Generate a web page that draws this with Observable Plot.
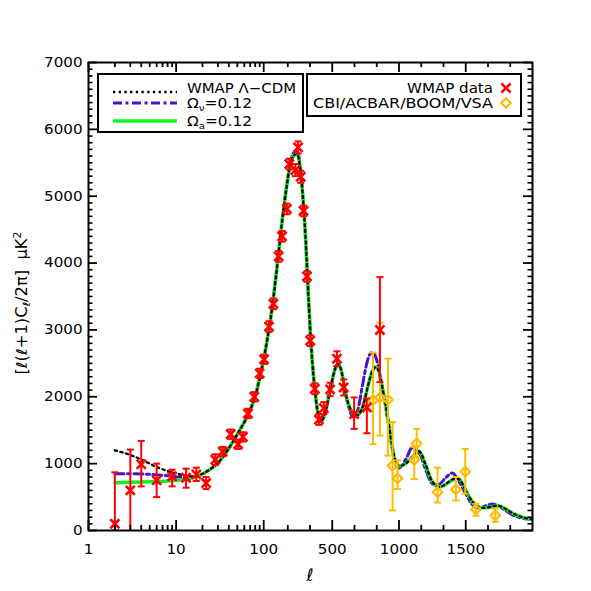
<!DOCTYPE html>
<html><head><meta charset="utf-8">
<script src="https://cdn.jsdelivr.net/npm/d3@7"></script>
<script src="https://cdn.jsdelivr.net/npm/@observablehq/plot@0.6"></script>
<style>body{margin:0;background:#fff}#chart svg{display:block}</style>
</head><body><div id="chart"></div>
<script>
// ---------------- data ----------------
const modelL = [2,3,4,5,6,8,10,13,16,20,25,30,40,50,60,70,80,90,100,120,140,160,180,200,220,240,260,280,300,320,340,360,380,400,420,440,460,480,500,520,540,560,580,600,620,640,660,680,700,720,740,760,780,800,820,840,860,880,900,920,940,960,980,1000,1050,1100,1150,1200,1250,1300,1350,1400,1450,1500,1550,1600,1650,1700,1750,1800,1850,1900,1950,2000];
// WMAP Lambda-CDM (black dotted)
const lcdmModel = [1200,1130,1060,1000,950,890,855,818,812,848,925,1010,1230,1440,1620,1800,2010,2280,2560,3170,3870,4560,5080,5450,5610,5630,5440,4990,4380,3560,2830,2300,1930,1700,1640,1720,1870,2070,2250,2410,2490,2440,2270,2060,1900,1800,1740,1720,1740,1810,1930,2100,2260,2380,2440,2420,2290,2090,1880,1640,1380,1140,1010,965,1000,1105,1185,980,730,650,695,765,765,600,430,350,340,360,368,320,260,215,185,170];
// Omega_nu = 0.12 (purple dash-dot)
const nuModel = [850,848,845,840,832,818,805,790,800,845,925,1010,1230,1440,1620,1800,2010,2280,2560,3170,3870,4560,5090,5480,5650,5670,5450,4990,4380,3560,2830,2300,1930,1700,1640,1720,1870,2070,2250,2410,2490,2440,2270,2040,1870,1750,1700,1740,1880,2100,2320,2510,2630,2665,2620,2500,2300,2070,1850,1600,1340,1110,970,935,1060,1240,1160,910,700,690,790,860,730,550,385,335,370,395,360,295,235,195,175,165];
// Omega_a = 0.12 (green solid)
const axModel = [715,720,725,728,732,740,750,768,795,845,925,1010,1230,1440,1620,1800,2010,2280,2560,3170,3870,4560,5080,5450,5610,5630,5440,4990,4380,3560,2830,2300,1930,1700,1640,1720,1870,2070,2250,2410,2490,2440,2270,2060,1900,1800,1740,1720,1740,1810,1930,2100,2260,2380,2440,2420,2290,2090,1880,1640,1380,1140,1010,965,1000,1100,1185,980,730,650,690,755,770,600,430,350,340,360,368,320,260,215,185,170];

// WMAP data
const wmapL  = [2,3,4,6,9,13,17,22,28,34,42,51,58,66,78,90,101,115,129,148,162,184,196,230,247,265,285,311,335,369,400,437,484,535,585,664,759,857];
const wmapV  = [100,600,990,750,810,790,840,710,1060,1180,1440,1290,1400,1750,2000,2350,2560,3050,3390,4100,4400,4810,5480,5390,5730,5290,4780,3800,2840,2120,1660,1830,2110,2570,2140,1740,1840,3000];
const wmapLo = [0,-300,660,500,660,640,740,620,980,1110,1370,1220,1330,1680,1930,2280,2490,2970,3310,4020,4320,4730,5400,5300,5640,5200,4700,3720,2760,2040,1580,1740,2010,2460,2020,1520,1455,2220];
const wmapHi = [870,1210,1340,1000,910,925,940,800,1140,1250,1510,1360,1470,1820,2070,2420,2630,3130,3470,4180,4480,4890,5560,5480,5820,5380,4860,3880,2920,2200,1740,1920,2210,2680,2260,1990,1975,3790];

// CBI / ACBAR / BOOMERanG / VSA data
const extL  = [805,857,917,952,989,1114,1132,1289,1426,1496,1576,1721];
const extV  = [1950,1990,1955,970,780,1057,1300,573,615,880,315,224];
const extLo = [1290,1420,1120,300,620,770,1100,420,450,550,220,130];
const extHi = [2660,3110,2570,1620,1050,1250,1520,940,800,1220,400,330];

// axes
const xTickValues = [1,10,100,500,1000,1500];
const xTickLabels = ["1","10","100","500","1000","1500"];
const xMinorLog = [2,3,4,5,6,7,8,9,20,30,40,50,60,70,80,90];
const xMinorLin = [166.67,333.33,666.67,833.33,1166.67,1333.33,1666.67,1833.33];
const yTickValues = [0,1000,2000,3000,4000,5000,6000,7000];
const yMinor = d3.range(100, 7000, 100).filter(v => v % 1000 !== 0);

const legendLeft = ["WMAP Λ−CDM", "=0.12", "=0.12"];
const legendRight = ["WMAP data", "CBI/ACBAR/BOOM/VSA"];

// colours
const RED = "#ff0000", ORANGE = "#ffbb00", PURPLE = "#4a12c8", GREEN = "#14f01e";

// ------------- hybrid log/linear ell axis -------------
const LB = 285;
const f = l => l <= LB ? Math.log10(l) : Math.log10(LB) + (l - LB) / (LB * Math.LN10);
const g = v => Math.log10(LB) + (v - LB) / (LB * Math.LN10);

const W = 591, H = 591, mL = 88, mR = 59, mT = 62, mB = 61;
const innerW = W - mL - mR, innerH = H - mT - mB;

const models = modelL.map((l, i) => ({l, lcdm: lcdmModel[i], nu: nuModel[i], ax: axModel[i]}));
const wmap = wmapL.map((l, i) => ({l, v: wmapV[i], lo: wmapLo[i], hi: wmapHi[i]}));
const ext = extL.map((l, i) => ({l, v: extV[i], lo: extLo[i], hi: extHi[i]}));

const xMajorT = xTickValues.map(f);
const xMinorT = [...xMinorLog.map(f), ...xMinorLin.map(g)];
const labelFor = t => { let bi = 0; xMajorT.forEach((v, i) => { if (Math.abs(v - t) < Math.abs(xMajorT[bi] - t)) bi = i; }); return xTickLabels[bi]; };

const cap = {draw(ctx, size) { const w = Math.sqrt(size / Math.PI); ctx.moveTo(-w, 0); ctx.lineTo(w, 0); }};
const X = d => f(d.l);

const plot = Plot.plot({
  width: W, height: H, marginLeft: mL, marginRight: mR, marginTop: mT, marginBottom: mB,
  style: {fontFamily: "'DejaVu Sans', sans-serif", fontSize: "13.5px", background: "white", color: "black"},
  x: {type: "linear", domain: [f(1), f(2000)]},
  y: {type: "linear", domain: [0, 7000]},
  marks: [
    Plot.line(models, {x: X, y: "nu", stroke: PURPLE, strokeWidth: 3, strokeDasharray: "9,3.5,3,3.5", curve: "catmull-rom", clip: true}),
    Plot.line(models, {x: X, y: "ax", stroke: GREEN, strokeWidth: 3.5, curve: "catmull-rom", clip: true}),
    Plot.line(models, {x: X, y: "lcdm", stroke: "black", strokeWidth: 2.3, strokeDasharray: "2.3,3.4", curve: "catmull-rom", clip: true}),
    // CBI/ACBAR/BOOM/VSA
    Plot.ruleX(ext, {x: X, y1: "lo", y2: "hi", stroke: ORANGE, strokeWidth: 2, clip: true}),
    Plot.dot(ext, {x: X, y: "lo", symbol: cap, r: 3.5, stroke: ORANGE, strokeWidth: 2, fill: "none"}),
    Plot.dot(ext, {x: X, y: "hi", symbol: cap, r: 3.5, stroke: ORANGE, strokeWidth: 2, fill: "none"}),
    Plot.dot(ext, {x: X, y: "v", symbol: "diamond2", r: 4.3, stroke: ORANGE, strokeWidth: 2.2, fill: "none"}),
    // WMAP
    Plot.ruleX(wmap, {x: X, y1: "lo", y2: "hi", stroke: RED, strokeWidth: 2, clip: true}),
    Plot.dot(wmap, {x: X, y: "lo", symbol: cap, r: 3.5, stroke: RED, strokeWidth: 2, fill: "none", clip: true}),
    Plot.dot(wmap, {x: X, y: "hi", symbol: cap, r: 3.5, stroke: RED, strokeWidth: 2, fill: "none", clip: true}),
    Plot.dot(wmap, {x: X, y: "v", symbol: "times", r: 4.2, stroke: RED, strokeWidth: 2.6, fill: "none"}),
    // inward ticks, all four sides
    Plot.tickX(xMajorT, {x: d => d, insetTop: innerH - 10, stroke: "black", strokeWidth: 1.8}),
    Plot.tickX(xMajorT, {x: d => d, insetBottom: innerH - 10, stroke: "black", strokeWidth: 1.8}),
    Plot.tickX(xMinorT, {x: d => d, insetTop: innerH - 5, stroke: "black", strokeWidth: 1.8}),
    Plot.tickX(xMinorT, {x: d => d, insetBottom: innerH - 5, stroke: "black", strokeWidth: 1.8}),
    Plot.tickY(yTickValues, {y: d => d, insetRight: innerW - 9, stroke: "black", strokeWidth: 1.8}),
    Plot.tickY(yTickValues, {y: d => d, insetLeft: innerW - 9, stroke: "black", strokeWidth: 1.8}),
    Plot.tickY(yMinor, {y: d => d, insetRight: innerW - 4.5, stroke: "black", strokeWidth: 1.6}),
    Plot.tickY(yMinor, {y: d => d, insetLeft: innerW - 4.5, stroke: "black", strokeWidth: 1.6}),
    Plot.frame({stroke: "black", strokeWidth: 2}),
    Plot.axisX({ticks: xMajorT, tickFormat: labelFor, tickSize: 0, tickPadding: 14, label: null, anchor: "bottom"}),
    Plot.axisY({ticks: yTickValues, tickFormat: d => String(d), tickSize: 0, tickPadding: 6, label: null, anchor: "left"})
  ]
});

document.getElementById("chart").append(plot);
const svg = d3.select(plot);

// widen tick labels (original uses a broad vector font)
svg.selectAll('g[aria-label$="tick label"] text').each(function () {
  const L = this.getComputedTextLength();
  this.setAttribute("textLength", (L * 1.12).toFixed(1));
  this.setAttribute("lengthAdjust", "spacingAndGlyphs");
});

const fam = "'DejaVu Sans', sans-serif";
const stretch = (sel, len) => sel.attr("textLength", len).attr("lengthAdjust", "spacingAndGlyphs");

// y-axis title
const yl = svg.append("text")
  .attr("transform", "translate(22,303) rotate(-90)")
  .attr("text-anchor", "middle").attr("dy", "0.35em")
  .attr("font-family", fam).attr("font-size", 15).attr("fill", "black");
yl.append("tspan").text("[ℓ(ℓ+1)C");
yl.append("tspan").attr("dy", 3).attr("font-size", 10).text("ℓ");
yl.append("tspan").attr("dy", -3).text("/2π]  μK");
yl.append("tspan").attr("dy", -6).attr("font-size", 10).text("2");
stretch(yl, 143);

// x-axis title
svg.append("text").attr("x", mL + innerW / 2).attr("y", 581).attr("text-anchor", "middle")
  .attr("font-family", fam).attr("font-size", 17).attr("font-style", "italic").attr("fill", "black").text("ℓ");

// legend 1
const lg1 = svg.append("g").attr("text-anchor", "start");
lg1.append("rect").attr("x", 98).attr("y", 74).attr("width", 205).attr("height", 58)
  .attr("fill", "white").attr("stroke", "black").attr("stroke-width", 2);
lg1.append("line").attr("x1", 113).attr("x2", 177).attr("y1", 92).attr("y2", 92)
  .attr("stroke", "black").attr("stroke-width", 2.3).attr("stroke-dasharray", "2.3,3.4");
lg1.append("line").attr("x1", 113).attr("x2", 177).attr("y1", 103).attr("y2", 103)
  .attr("stroke", PURPLE).attr("stroke-width", 3).attr("stroke-dasharray", "9,3.5,3,3.5");
lg1.append("line").attr("x1", 113).attr("x2", 177).attr("y1", 121).attr("y2", 121)
  .attr("stroke", GREEN).attr("stroke-width", 3.5);
const t1 = lg1.append("text").attr("x", 187).attr("y", 93).attr("text-anchor", "start").attr("font-family", fam).attr("font-size", 13.5).text(legendLeft[0]);
stretch(t1, 109);
const t2 = lg1.append("text").attr("x", 187).attr("y", 108).attr("text-anchor", "start").attr("font-family", fam).attr("font-size", 13.5);
t2.append("tspan").text("Ω"); t2.append("tspan").attr("dy", 3).attr("font-size", 9).text("ν");
t2.append("tspan").attr("dy", -3).text(legendLeft[1]);
stretch(t2, 65);
const t3 = lg1.append("text").attr("x", 187).attr("y", 126).attr("text-anchor", "start").attr("font-family", fam).attr("font-size", 13.5);
t3.append("tspan").text("Ω"); t3.append("tspan").attr("dy", 3).attr("font-size", 9).text("a");
t3.append("tspan").attr("dy", -3).text(legendLeft[2]);
stretch(t3, 65);

// legend 2
const lg2 = svg.append("g");
lg2.append("rect").attr("x", 307).attr("y", 74).attr("width", 214).attr("height", 42)
  .attr("fill", "white").attr("stroke", "black").attr("stroke-width", 2);
stretch(lg2.append("text").attr("x", 407).attr("y", 93).attr("text-anchor", "start")
  .attr("font-family", fam).attr("font-size", 13.5).text(legendRight[0]), 86);
stretch(lg2.append("text").attr("x", 313).attr("y", 108).attr("text-anchor", "start")
  .attr("font-family", fam).attr("font-size", 13.5).text(legendRight[1]), 180);
lg2.append("path").attr("transform", "translate(506,88)")
  .attr("d", d3.symbol(d3.symbolTimes, Math.PI * 4.2 * 4.2)())
  .attr("fill", "none").attr("stroke", RED).attr("stroke-width", 2.6);
lg2.append("path").attr("transform", "translate(506,103)")
  .attr("d", d3.symbol(d3.symbolDiamond2, Math.PI * 4.3 * 4.3)())
  .attr("fill", "none").attr("stroke", ORANGE).attr("stroke-width", 2.2);
</script>
</body></html>
